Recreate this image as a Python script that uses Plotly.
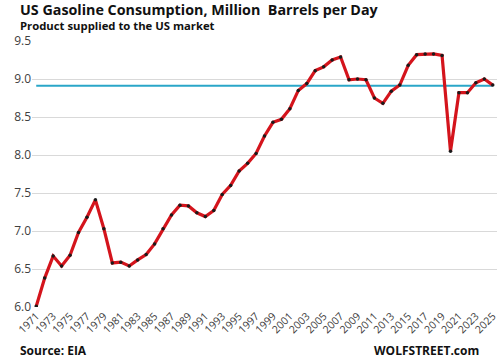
import plotly.graph_objects as go

years = list(range(1971, 2026))
consumption = [6.01, 6.38, 6.67, 6.54, 6.68, 6.98, 7.18, 7.41, 7.03, 6.58,
               6.59, 6.54, 6.62, 6.69, 6.83, 7.03, 7.21, 7.34, 7.33, 7.24,
               7.19, 7.27, 7.48, 7.60, 7.79, 7.89, 8.02, 8.25, 8.43, 8.47,
               8.61, 8.85, 8.94, 9.11, 9.16, 9.25, 9.29, 8.99, 9.00, 8.99,
               8.75, 8.68, 8.84, 8.92, 9.18, 9.32, 9.33, 9.33, 9.31, 8.05,
               8.82, 8.82, 8.95, 9.00, 8.92]
reference_level = 8.91
tick_years = list(range(1971, 2026, 2))
y_ticks = [6.0, 6.5, 7.0, 7.5, 8.0, 8.5, 9.0, 9.5]

fig = go.Figure()
fig.add_trace(go.Scatter(x=[years[0], years[-1]], y=[reference_level] * 2,
                         mode="lines", line=dict(color="#2aa6c8", width=2),
                         hoverinfo="skip", showlegend=False))
fig.add_trace(go.Scatter(x=years, y=consumption, mode="lines+markers",
                         line=dict(color="#d4141c", width=3.2),
                         marker=dict(color="#1a1a1a", size=3.5),
                         showlegend=False))

font_family = "Open Sans, Liberation Sans, sans-serif"
fig.update_layout(
    width=500, height=360,
    margin=dict(l=32, r=3, t=41, b=53, autoexpand=False),
    paper_bgcolor="white", plot_bgcolor="white",
    font=dict(family=font_family, color="#404040"),
    xaxis=dict(range=[1970.5, 2025.5], tickvals=tick_years,
               ticktext=[str(y) for y in tick_years], tickangle=-45,
               showgrid=False, zeroline=False, showline=False,
               automargin=False,
               tickfont=dict(size=10.5, color="#404040"), ticks=""),
    yaxis=dict(range=[6.0, 9.5], tickvals=y_ticks,
               ticktext=[f"{v:.1f}" for v in y_ticks],
               showgrid=True, gridcolor="#d9d9d9", gridwidth=1,
               zeroline=False, showline=False, ticks="", automargin=False,
               tickfont=dict(size=12, color="#404040")),
    annotations=[
        dict(text="<b>US Gasoline Consumption, Million  Barrels per Day</b>",
             xref="paper", yref="paper", x=-0.030, y=1.1203,
             xanchor="left", yanchor="middle", showarrow=False,
             font=dict(size=14.3, color="#111111", family=font_family)),
        dict(text="<b>Product supplied to the US market</b>",
             xref="paper", yref="paper", x=-0.030, y=1.0566,
             xanchor="left", yanchor="middle", showarrow=False,
             font=dict(size=11.3, color="#111111", family=font_family)),
        dict(text="<b>Source: EIA</b>",
             xref="paper", yref="paper", x=-0.030, y=-0.165,
             xanchor="left", yanchor="middle", showarrow=False,
             font=dict(size=12, color="#111111", family=font_family)),
        dict(text="<b>WOLFSTREET.com</b>",
             xref="paper", yref="paper", x=(481 - 32) / 465, y=-0.165,
             xanchor="right", yanchor="middle", showarrow=False,
             font=dict(size=12, color="#111111", family=font_family)),
    ],
)
fig.write_html("out.html",
               config={"displayModeBar": False},
               post_script="document.body.style.margin='0';"
                           "document.body.style.overflow='hidden';")
